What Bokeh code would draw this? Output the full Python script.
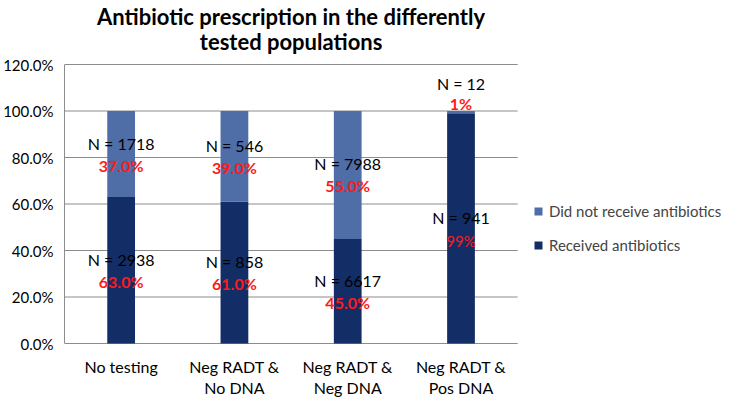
from bokeh.plotting import figure
from bokeh.models import (ColumnDataSource, Legend, LegendItem, NumeralTickFormatter,
                          FixedTicker, Range1d)
from bokeh.core.properties import value
from bokeh.embed import file_html
from bokeh.resources import INLINE

title_lines = ["Antibiotic prescription in the differently", "tested populations"]
categories = ["No testing", "Neg RADT & No DNA", "Neg RADT & Neg DNA", "Neg RADT & Pos DNA"]
tick_line1 = ["No testing", "Neg RADT &", "Neg RADT &", "Neg RADT &"]
tick_line2 = ["", "No DNA", "Neg DNA", "Pos DNA"]
y_ticks = [0, 0.2, 0.4, 0.6, 0.8, 1.0, 1.2]
received = [0.63, 0.61, 0.45, 0.99]
not_received = [0.37, 0.39, 0.55, 0.01]
n_received = [2938, 858, 6617, 941]
n_not_received = [1718, 546, 7988, 12]
pct_received = ["63.0%", "61.0%", "45.0%", "99%"]
pct_not_received = ["37.0%", "39.0%", "55.0%", "1%"]

LIGHT = "#4F6DA6"
DARK = "#132E66"
GRID = "#8C8C8C"
FONT = "Lato"

# layout (pixels)
W, H = 726, 398
LEFT = 54          # room for y tick labels
TOP = 64           # distance from top of figure to the 120% line
PX_PER_UNIT = 232.5  # pixels per 100%
PX_PER_CAT = 115     # pixels per category slot
LEGEND_POS = (469, H - 255)

n = len(categories)
xs = [i + 0.5 for i in range(n)]
y_end = y_ticks[-1] + TOP / PX_PER_UNIT
y_start = y_ticks[-1] - (H - TOP) / PX_PER_UNIT
x_end = (W - LEFT) / PX_PER_CAT

p = figure(x_range=Range1d(0, x_end), y_range=Range1d(y_start, y_end), width=W, height=H,
           output_backend="svg", toolbar_location=None,
           min_border_left=LEFT, min_border_right=0, min_border_top=0, min_border_bottom=0)
p.outline_line_color = None
p.background_fill_color = "white"
p.border_fill_color = "white"
p.xaxis.visible = False
p.xgrid.grid_line_color = None
p.ygrid.grid_line_color = None

# gridlines limited to the plot area
p.segment(x0=[0] * len(y_ticks), x1=[n] * len(y_ticks), y0=y_ticks, y1=y_ticks,
          line_color=GRID, line_width=1)

src = ColumnDataSource(dict(x=xs, rec=received, notrec=not_received))
r = p.vbar_stack(["rec", "notrec"], x="x", width=0.245, color=[DARK, LIGHT], source=src,
                 line_color=None)

# data labels
rows_x, rows_y, rows_txt, rows_off, rows_col, rows_style, rows_size = [], [], [], [], [], [], []
for i, c in enumerate(xs):
    mid1 = received[i] / 2
    big = not_received[i] >= 0.05
    rows_x += [c, c]
    rows_y += [mid1, mid1]
    rows_txt += [f"N = {n_received[i]}", pct_received[i]]
    rows_off += [-11, 11 if big else 13]
    rows_col += ["black", "#FF1A1A"]
    rows_style += ["normal", "bold" if big else "normal"]
    rows_size += ["16px", "16px" if big else "15px"]
    top = received[i] + not_received[i]
    if big:
        mid2 = received[i] + not_received[i] / 2
        rows_x += [c, c]
        rows_y += [mid2, mid2]
        rows_off += [-11, 11]
    else:
        rows_x += [c, c]
        rows_y += [top, top]
        rows_off += [-28, -8]
    rows_txt += [f"N = {n_not_received[i]}", pct_not_received[i]]
    rows_col += ["black", "#FF1A1A"]
    rows_style += ["normal", "bold"]
    rows_size += ["16px", "16px"]

lsrc = ColumnDataSource(dict(x=rows_x, y=rows_y, t=rows_txt, off=rows_off, col=rows_col,
                             st=rows_style, sz=rows_size))
p.text(x="x", y="y", text="t", y_offset="off", text_color="col", text_font_style="st",
       text_font_size="sz", text_font=value(FONT), text_align="center",
       text_baseline="middle", source=lsrc)

# category labels (two lines) below the 0% line
csrc = ColumnDataSource(dict(x=xs + xs, y=[y_ticks[0]] * (2 * n), t=tick_line1 + tick_line2,
                             off=[23] * n + [44] * n))
p.text(x="x", y="y", text="t", y_offset="off", text_color="black", text_font_size="16px",
       text_font=value(FONT), text_align="center", text_baseline="middle", source=csrc)

# title (two lines) centred over the plot area
tsrc = ColumnDataSource(dict(x=[n / 2] * 2, y=[y_ticks[-1]] * 2, t=title_lines, off=[-48, -23]))
p.text(x="x", y="y", text="t", y_offset="off", text_color="black", text_font_size="22px",
       text_font_style="bold", text_font=value(FONT), text_align="center",
       text_baseline="middle", source=tsrc)

ticker = FixedTicker(ticks=y_ticks)
p.yaxis.ticker = ticker
p.yaxis.bounds = (y_ticks[0], y_ticks[-1])
p.yaxis.formatter = NumeralTickFormatter(format="0.0%")
p.yaxis.major_tick_line_color = None
p.yaxis.minor_tick_line_color = None
p.yaxis.major_label_text_font = FONT
p.yaxis.major_label_text_font_size = "15px"
p.yaxis.major_label_text_color = "black"
p.yaxis.axis_line_color = GRID
p.yaxis.major_label_standoff = 5

legend = Legend(items=[LegendItem(label="Did not receive antibiotics", renderers=[r[1]]),
                       LegendItem(label="Received antibiotics", renderers=[r[0]])],
                location=LEGEND_POS, border_line_color=None, background_fill_alpha=0,
                label_text_font=FONT, label_text_font_size="15px",
                glyph_width=10, glyph_height=10, spacing=14, label_height=20,
                padding=0, margin=0, label_standoff=6)
p.add_layout(legend, "center")

open("out.html", "w").write(file_html(p, INLINE))
